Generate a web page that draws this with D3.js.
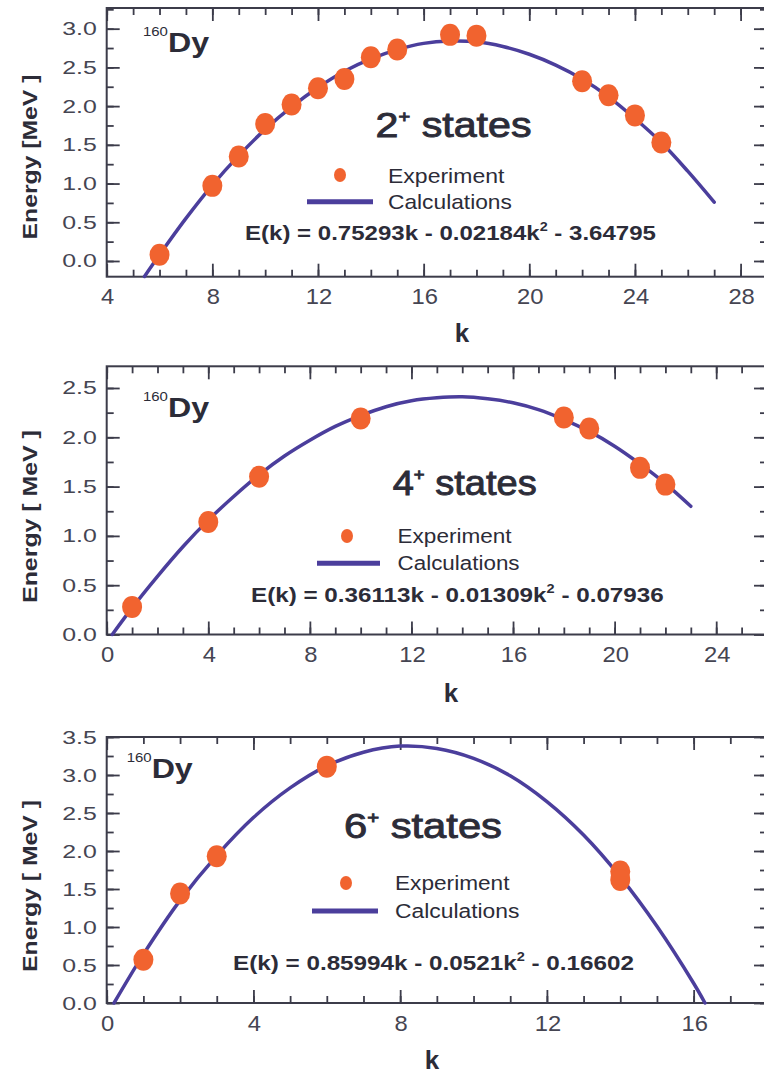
<!DOCTYPE html>
<html>
<head>
<meta charset="utf-8">
<script src="https://cdn.jsdelivr.net/npm/d3@7"></script>
<style>
  body { margin: 0; background: #fff; }
  svg { display: block; font-family: "Liberation Sans", Arial, Helvetica, sans-serif; }
</style>
</head>
<body>
<div id="chart"></div>
<script>
// 2+ states
var k2Exp = [6, 8, 9, 10, 11, 12, 13, 14, 15, 17, 18, 22, 23, 24, 25];
var e2Exp = [0.08, 0.97, 1.35, 1.77, 2.02, 2.23, 2.35, 2.63, 2.73, 2.92, 2.91, 2.32, 2.14, 1.88, 1.53];
var k2Calc = [5.43, 6, 7, 8, 9, 10, 11, 12, 13, 14, 15, 16, 17, 18, 19, 20, 21, 22, 23, 24, 25, 26, 27];
var e2Calc = [-0.20, 0.08, 0.55, 0.98, 1.36, 1.70, 1.99, 2.24, 2.45, 2.61, 2.73, 2.81, 2.84, 2.83, 2.77, 2.67, 2.53, 2.35, 2.12, 1.84, 1.53, 1.16, 0.76];
var eq2 = ["E(k) = 0.75293k - 0.02184k", "2", " - 3.64795"];

// 4+ states
var k4Exp = [1, 4, 6, 10, 18, 19, 21, 22];
var e4Exp = [0.28, 1.14, 1.60, 2.19, 2.20, 2.09, 1.69, 1.52];
var k4Calc = [0.22, 1, 2, 3, 4, 5, 6, 7, 8, 9, 10, 11, 12, 13, 14, 15, 16, 17, 18, 19, 20, 21, 22, 23];
var e4Calc = [0, 0.27, 0.59, 0.89, 1.16, 1.40, 1.62, 1.81, 1.97, 2.11, 2.22, 2.31, 2.37, 2.40, 2.41, 2.39, 2.35, 2.28, 2.18, 2.06, 1.91, 1.73, 1.53, 1.30];
var eq4 = ["E(k) = 0.36113k - 0.01309k", "2", " - 0.07936"];

// 6+ states
var k6Exp = [1, 2, 3, 6, 14, 14];
var e6Exp = [0.57, 1.44, 1.93, 3.11, 1.73, 1.62];
var k6Calc = [0.2, 1, 2, 3, 4, 5, 6, 7, 8, 9, 10, 11, 12, 13, 14, 15, 16, 16.31];
var e6Calc = [0, 0.64, 1.35, 1.94, 2.44, 2.83, 3.12, 3.30, 3.38, 3.35, 3.22, 2.99, 2.65, 2.21, 1.66, 1.01, 0.26, 0];
var eq6 = ["E(k) = 0.85994k - 0.0521k", "2", " - 0.16602"];

var yTitles = ["Energy [MeV ]", "Energy [ MeV ]", "Energy [ MeV ]"];
var stateLabels = ["2", "4", "6"];

var svgWidth = 764;
var svgHeight = 1075;
var ink = "#2c2c38";
var axisInk = "#3c3c4a";
var orange = "#f1632f";
var purple = "#4b3e9c";

var svg = d3.select("#chart")
    .append("svg")
    .attr("width", svgWidth)
    .attr("height", svgHeight);

// text helper: squeezes/stretches the text horizontally to the width seen in the picture
function addText(parent, x, y, width, style, build, rotate) {
  var g = parent.append("g");
  var t = g.append("text");
  Object.keys(style).forEach(function(s) { t.style(s, style[s]); });
  build(t);
  var bw = t.node().getBBox().width;
  var sx = width ? width / bw : 1;
  g.attr("transform", `translate(${x},${y})` + (rotate ? ` rotate(${rotate})` : "") + ` scale(${sx},1)`);
  return g;
}

var panels = [
  {
    kExp: k2Exp, eExp: e2Exp, kCalc: k2Calc, eCalc: e2Calc, eq: eq2, yTitle: yTitles[0], state: stateLabels[0],
    top: 8, bottom: 276.7, xDom: [4, 29], yDom: [-0.203, 3.267], xMajor: 4,
    dy: 52, title: [375.6, 136.7, 156], dot: [340, 175], legX: 388, legY: 182.7, lineY: 201.7, lineX: [307, 373],
    calcY: 209, legW: [117, 124], eqPos: [245, 240, 411], yLab: [37, 157, 165], kPos: [462, 342]
  },
  {
    kExp: k4Exp, eExp: e4Exp, kCalc: k4Calc, eCalc: e4Calc, eq: eq4, yTitle: yTitles[1], state: stateLabels[1],
    top: 366.3, bottom: 634.5, xDom: [0, 26], yDom: [0, 2.72], xMajor: 4,
    dy: 416.7, title: [392.7, 495, 144], dot: [347, 536], legX: 397.6, legY: 543.3, lineY: 563.3, lineX: [317, 380],
    calcY: 570, legW: [114.4, 122], eqPos: [251, 601.7, 413], yLab: [37, 516.5, 173], kPos: [451, 702]
  },
  {
    kExp: k6Exp, eExp: e6Exp, kCalc: k6Calc, eCalc: e6Calc, eq: eq6, yTitle: yTitles[2], state: stateLabels[2],
    top: 737, bottom: 1003, xDom: [0, 18], yDom: [0, 3.5], xMajor: 4,
    dy: 778, title: [344, 838.3, 158], dot: [346, 883], legX: 395, legY: 890, lineY: 911, lineX: [312, 378],
    calcY: 918, legW: [115, 124.5], eqPos: [233, 970, 401], yLab: [37, 886, 172], kPos: [432, 1069]
  }
];

var left = 106.7;
var right = 767;

panels.forEach(function(p, pi) {
  var x = d3.scaleLinear().domain(p.xDom).range([left, right]);
  var y = d3.scaleLinear().domain(p.yDom).range([p.bottom, p.top]);
  var g = svg.append("g");

  var xMinor = d3.range(Math.ceil(p.xDom[0]), p.xDom[1] + 0.001, 1);
  var xMaj = xMinor.filter(function(v) { return v % p.xMajor === 0; });
  var yMinor = d3.range(Math.ceil(p.yDom[0] / 0.25) * 0.25, p.yDom[1] + 0.001, 0.25).map(function(v) { return +v.toFixed(2); });
  var yMaj = yMinor.filter(function(v) { return Math.abs(v * 2 - Math.round(v * 2)) < 1e-6; });

  // inward ticks on all four sides
  function ticks(axis, tr) {
    var a = g.append("g").attr("transform", tr).call(axis);
    a.select(".domain").remove();
    a.selectAll("line").attr("stroke", axisInk).attr("stroke-width", 1.8);
    a.selectAll("text").remove();
  }
  [[xMinor, 7], [xMaj, 13]].forEach(function(d) {
    ticks(d3.axisBottom(x).tickValues(d[0]).tickSize(-d[1]), `translate(0,${p.bottom})`);
    ticks(d3.axisTop(x).tickValues(d[0]).tickSize(-d[1]), `translate(0,${p.top})`);
  });
  [[yMinor, 7], [yMaj, 13]].forEach(function(d) {
    ticks(d3.axisLeft(y).tickValues(d[0]).tickSize(-d[1]), `translate(${left},0)`);
    ticks(d3.axisRight(y).tickValues(d[0]).tickSize(-d[1]), `translate(${right},0)`);
  });

  g.append("rect")
    .attr("x", left).attr("y", p.top)
    .attr("width", right - left).attr("height", p.bottom - p.top)
    .attr("fill", "none").attr("stroke", axisInk).attr("stroke-width", 2);

  // tick labels
  yMaj.forEach(function(v) {
    addText(g, left - 10, y(v) + 6, null, {"font-size": "18px", fill: "#454552", "text-anchor": "end"},
      function(t) { t.text(d3.format(".1f")(v)); })
      .attr("transform", `translate(${left - 10},${y(v) + 6.5}) scale(1.38,1)`);
  });
  xMaj.forEach(function(v) {
    addText(g, x(v), p.bottom + 27, null, {"font-size": "22px", fill: "#454552", "text-anchor": "middle"},
      function(t) { t.text(v); })
      .attr("transform", `translate(${x(v) + 1},${p.bottom + 27.5}) scale(1.08,1)`);
  });

  // axis titles
  addText(g, p.yLab[0], p.yLab[1], p.yLab[2], {"font-size": "21px", "font-weight": "bold", fill: ink, "text-anchor": "middle"},
    function(t) { t.text(p.yTitle); }, -90);
  addText(g, p.kPos[0], p.kPos[1], null, {"font-size": "26px", "font-weight": "bold", fill: ink, "text-anchor": "middle"},
    function(t) { t.text("k"); });

  // calculated curve
  var calc = p.kCalc.map(function(k, i) { return [k, p.eCalc[i]]; });
  g.append("path")
    .datum(calc)
    .attr("fill", "none")
    .attr("stroke", purple)
    .attr("stroke-width", 3.5)
    .attr("stroke-linecap", "round")
    .attr("d", d3.line().x(function(d) { return x(d[0]); }).y(function(d) { return y(d[1]); }).curve(d3.curveCatmullRom));

  // experiment points
  g.selectAll(".exp")
    .data(p.kExp.map(function(k, i) { return [k, p.eExp[i]]; }))
    .enter()
    .append("ellipse")
    .attr("class", "exp")
    .attr("cx", function(d) { return x(d[0]); })
    .attr("cy", function(d) { return y(d[1]); })
    .attr("rx", 10)
    .attr("ry", 11)
    .attr("fill", orange);

  // nucleus label
  var dy = addText(g, 0, 0, null, {fill: ink}, function(t) {
    t.append("tspan").style("font-size", "13px").text("160");
    t.append("tspan").style("font-size", "28px").style("font-weight", "bold").attr("dy", 16).text("Dy");
  });
  dy.attr("transform", `translate(${pi === 2 ? 126.7 : 143},${p.dy - 16}) scale(1.15,1)`);

  // state title
  addText(g, p.title[0], p.title[1], p.title[2],
    {"font-size": "35px", fill: ink, stroke: ink, "stroke-width": "0.9px"}, function(t) {
    t.append("tspan").text(p.state);
    t.append("tspan").attr("dy", -15).style("font-size", "17px").text("+");
    t.append("tspan").attr("dy", 15).text(" states");
  });

  // legend
  g.append("ellipse").attr("cx", p.dot[0]).attr("cy", p.dot[1]).attr("rx", 6).attr("ry", 7).attr("fill", orange);
  g.append("line")
    .attr("x1", p.lineX[0]).attr("x2", p.lineX[1])
    .attr("y1", p.lineY).attr("y2", p.lineY)
    .attr("stroke", purple).attr("stroke-width", 5);
  addText(g, p.legX, p.legY, p.legW[0], {"font-size": "20px", fill: ink}, function(t) { t.text("Experiment"); });
  addText(g, p.legX, p.calcY, p.legW[1], {"font-size": "20px", fill: ink}, function(t) { t.text("Calculations"); });

  // fit equation
  addText(g, p.eqPos[0], p.eqPos[1], p.eqPos[2], {"font-size": "20px", "font-weight": "bold", fill: ink}, function(t) {
    t.append("tspan").text(p.eq[0]);
    t.append("tspan").attr("dy", -9).style("font-size", "12px").text(p.eq[1]);
    t.append("tspan").attr("dy", 9).text(p.eq[2]);
  });
});
</script>
</body>
</html>
